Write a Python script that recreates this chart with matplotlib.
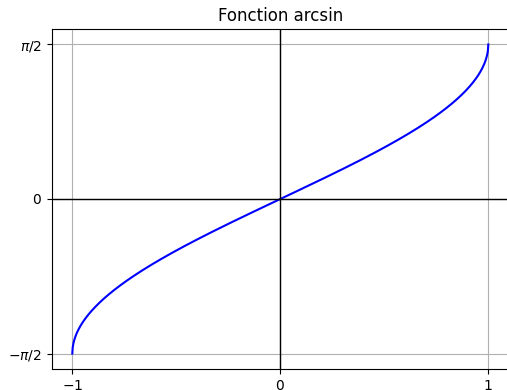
import numpy as np
import matplotlib
matplotlib.use("Agg")
import matplotlib.pyplot as plt

x_ticks = [-1, 0, 1]
x_tick_labels = ["$-1$", "$0$", "$1$"]
y_ticks = [-np.pi / 2, 0, np.pi / 2]
y_tick_labels = [r"$-\pi/2$", "$0$", r"$\pi/2$"]

x = np.linspace(-1, 1, 1000)
y = np.arcsin(x)

fig = plt.figure(figsize=(5.07, 3.90), dpi=100)
ax = fig.add_axes([51.5 / 507, 21 / 390, 457.6 / 507, 340 / 390])
ax.plot(x, y, color="blue")
ax.axhline(0, color="black", lw=1)
ax.axvline(0, color="black", lw=1)
ax.set_xticks(x_ticks)
ax.set_xticklabels(x_tick_labels)
ax.set_yticks(y_ticks)
ax.set_yticklabels(y_tick_labels)
ax.grid(True)
ax.set_title("Fonction arcsin")
fig.savefig("out.png", dpi=100)
